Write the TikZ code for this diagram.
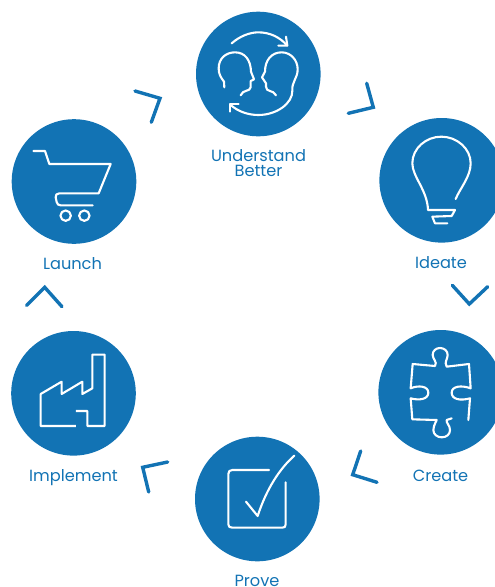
\documentclass[tikz,border=0pt]{standalone}
\usepackage{fontspec}
\setmainfont{Poppins}
\definecolor{brandblue}{HTML}{1273B4}
\tikzset{
  disc/.style={circle,fill=brandblue,draw=none,minimum size=124.6pt,inner sep=0pt},
  chevron/.style={draw=brandblue,line width=3.4pt,line cap=round,miter limit=10},
  icon/.style={draw=white,line width=2.1pt,line join=round,line cap=round},
  caption/.style={text=brandblue,font=\fontsize{16.2}{16.2}\selectfont,inner sep=0pt,align=center,anchor=base}
}
\begin{document}
\begin{tikzpicture}[x=1pt,y=-1pt]
\useasboundingbox (0,0) rectangle (495,587);
% discs
\node[disc] (understand) at (258.3,74) {};
\node[disc] (launch) at (74,181.5) {};
\node[disc] (ideate) at (441.7,180.3) {};
\node[disc] (create) at (440.7,392.3) {};
\node[disc] (implement) at (73.5,393.3) {};
\node[disc] (prove) at (257.3,499) {};
% labels
\node[caption] (lu) at (258.5,161.7) {Understand};
\node[caption] (lb) at (258.5,176) {Better};
\node[caption] (ll) at (72.5,269.3) {Launch};
\node[caption] (li) at (441,268.5) {Ideate};
\node[caption] (lc) at (440.5,481) {Create};
\node[caption] (lm) at (73.5,481.5) {Implement};
\node[caption] (lp) at (257,586.2) {Prove};
% chevrons
\draw[chevron] (366.7,83.3) -- (373.3,107.3) -- (348.3,113.3);
\draw[chevron] (135,91) -- (160,98.3) -- (151.3,122.3);
\draw[chevron] (452.3,285.3) -- (469.3,304) -- (487.7,286.7);
\draw[chevron] (360.7,451) -- (352.7,474.7) -- (377,482.3);
\draw[chevron] (26.7,305.3) -- (44.7,287.3) -- (62,306.7);
\draw[chevron] (167.7,462) -- (142.7,467.3) -- (148.7,492);
% heads
\begin{scope}[shift={(190,0)},x=.33333pt,y=-.33333pt]
\draw[icon] (103,262) -- (102,245) .. controls (92,232) and (86,222) .. (86,205) .. controls (86,175) and (108,157) .. (135,157) .. controls (165,157) and (182,180) .. (183,215) -- (192,238) -- (182,243) -- (182,262) .. controls (180,276) and (158,268) .. (152,286);
\draw[icon] (258,286) .. controls (250,268) and (228,278) .. (228,260) -- (228,250) -- (216,232) -- (225,215) .. controls (225,180) and (245,157) .. (275,157) .. controls (302,157) and (323,180) .. (323,208) .. controls (323,235) and (305,245) .. (307,272) .. controls (308,310) and (260,345) .. (205,345) .. controls (175,345) and (145,335) .. (122,315);
\draw[icon] (120,335) -- (120,311) -- (146,311);
\draw[icon] (125,130) .. controls (150,108) and (180,97) .. (205,97) .. controls (240,97) and (270,112) .. (291,136);
\draw[icon] (265,137) -- (292,137) -- (288,110);
\end{scope}
% cart
\begin{scope}[shift={(0,80)},x=.33333pt,y=-.33333pt]
\draw[icon] (100,213) -- (135,213) -- (148,252) -- (332,252) -- (296,340) -- (178,340) .. controls (170,340) and (166,345) .. (167,352) -- (170,366) .. controls (172,373) and (175,376) .. (182,376) -- (278,376);
\draw[icon] (197,407) circle[radius=5.2pt];
\draw[icon] (253,407) circle[radius=5.2pt];
\end{scope}
% bulb
\begin{scope}[shift={(340,80)},x=.33333pt,y=-.33333pt]
\draw[icon] (347,357) .. controls (360,325) and (392,290) .. (392,250) .. controls (392,205) and (350,170) .. (304,170) .. controls (258,170) and (217,205) .. (217,250) .. controls (217,290) and (262,330) .. (264,390) -- (345,390) -- (335,408) -- (277,410) -- (285,430) -- (322,430);
\end{scope}
% puzzle
\begin{scope}[shift={(340,320)},x=.33333pt,y=-.33333pt]
\draw[icon] (385,300) -- (390,235) .. controls (360,243) and (335,238) .. (335,218) .. controls (335,198) and (365,195) .. (392,205) -- (387,132) -- (320,140) .. controls (312,125) and (323,118) .. (323,105) .. controls (323,92) and (312,84) .. (300,84) .. controls (288,84) and (278,92) .. (278,105) .. controls (278,118) and (293,125) .. (285,138) -- (218,132) -- (212,205) .. controls (235,195) and (265,198) .. (265,218) .. controls (265,238) and (238,242) .. (212,235) -- (217,298) -- (290,300) .. controls (283,315) and (280,322) .. (280,330) .. controls (280,343) and (292,352) .. (305,352) .. controls (320,352) and (330,343) .. (330,330) .. controls (330,315) and (318,310) .. (320,300) -- (335,295);
\end{scope}
% factory
\begin{scope}[shift={(0,280)},x=.33333pt,y=-.33333pt]
\draw[icon,line cap=butt] (228,438) -- (122,438) -- (122,342) -- (185,305) -- (185,342) -- (247,305) -- (247,342) -- (277,325) -- (277,224) -- (314,224) -- (314,438) -- (262,438) -- (262,393) -- (228,393);
\end{scope}
% checkbox
\begin{scope}[shift={(185,425)},x=.33333pt,y=-.33333pt]
\draw[icon] (252,135) -- (142,135) .. controls (134,135) and (130,139) .. (130,147) -- (130,298) .. controls (130,305) and (134,308) .. (142,308) -- (292,308) .. controls (299,308) and (302,305) .. (302,298) -- (302,172);
\draw[icon] (183,230) -- (218,273) .. controls (245,190) and (285,130) .. (328,92);
\end{scope}
\end{tikzpicture}
\end{document}
